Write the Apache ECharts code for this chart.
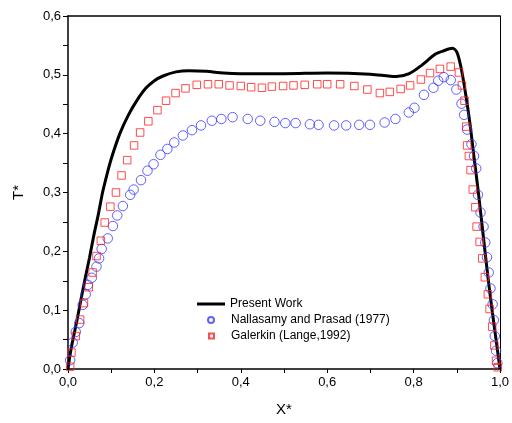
<!DOCTYPE html>
<html><head><meta charset="utf-8">
<script src="https://cdn.jsdelivr.net/npm/echarts@6/dist/echarts.min.js"></script>
<style>html,body{margin:0;padding:0;background:#fff}#c{width:512px;height:423px}</style>
</head><body><div id="c"></div>
<script>
const seriesNames = ['Present Work', 'Nallasamy and Prasad (1977)', 'Galerkin (Lange,1992)'];
const xTickLabels = ['0,0','0,2','0,4','0,6','0,8','1,0'];
const yTickLabels = ['0,0','0,1','0,2','0,3','0,4','0,5','0,6'];
const presentX = [0,0.005,0.01,0.02,0.03,0.04,0.05,0.06,0.07,0.08,0.09,0.1,0.12,0.14,0.16,0.18,0.2,0.22,0.25,0.28,0.32,0.36,0.4,0.5,0.6,0.7,0.76,0.79,0.82,0.85,0.87,0.89,0.9,0.91,0.92,0.93,0.94,0.95,0.96,0.97,0.98,0.99,1.0];
const presentT = [0,0.025,0.045,0.08,0.118,0.155,0.19,0.228,0.262,0.3,0.33,0.357,0.40,0.432,0.457,0.477,0.49,0.498,0.505,0.507,0.506,0.503,0.502,0.502,0.503,0.501,0.497,0.502,0.517,0.535,0.541,0.545,0.539,0.512,0.47,0.42,0.36,0.30,0.235,0.17,0.11,0.055,0];
const nallX = [0.005,0.011,0.018,0.026,0.034,0.041,0.046,0.055,0.066,0.072,0.078,0.092,0.104,0.114,0.127,0.144,0.152,0.169,0.184,0.198,0.214,0.230,0.246,0.266,0.287,0.308,0.333,0.355,0.381,0.416,0.445,0.478,0.503,0.527,0.560,0.580,0.616,0.644,0.674,0.699,0.733,0.758,0.789,0.802,0.824,0.846,0.857,0.870,0.886,0.899,0.911,0.917,0.924,0.934,0.940,0.945,0.949,0.955,0.962,0.966,0.970,0.974,0.978,0.983,0.986,0.988,0.991,0.994];
const nallT = [0.015,0.045,0.063,0.078,0.109,0.127,0.143,0.155,0.174,0.188,0.204,0.222,0.243,0.261,0.277,0.296,0.305,0.321,0.337,0.348,0.364,0.374,0.385,0.397,0.406,0.414,0.422,0.425,0.428,0.425,0.422,0.420,0.418,0.418,0.416,0.415,0.414,0.414,0.415,0.415,0.419,0.425,0.436,0.444,0.466,0.478,0.490,0.496,0.491,0.475,0.451,0.432,0.407,0.382,0.362,0.341,0.296,0.266,0.242,0.215,0.190,0.164,0.137,0.110,0.083,0.056,0.031,0.010];
const galX = [0.005,0.008,0.018,0.028,0.037,0.048,0.057,0.066,0.076,0.085,0.098,0.111,0.124,0.137,0.153,0.167,0.186,0.207,0.227,0.249,0.272,0.298,0.324,0.349,0.374,0.400,0.424,0.449,0.472,0.498,0.522,0.548,0.577,0.600,0.630,0.663,0.693,0.722,0.745,0.770,0.792,0.817,0.838,0.861,0.886,0.905,0.912,0.918,0.922,0.924,0.928,0.932,0.937,0.943,0.946,0.953,0.959,0.965,0.972,0.976,0.982,0.987,0.991,0.995];
const galT = [0.004,0.028,0.056,0.084,0.112,0.139,0.164,0.192,0.218,0.249,0.276,0.300,0.329,0.355,0.380,0.402,0.421,0.440,0.456,0.469,0.477,0.483,0.484,0.484,0.482,0.481,0.479,0.478,0.480,0.481,0.482,0.483,0.484,0.484,0.484,0.481,0.475,0.469,0.471,0.476,0.482,0.492,0.503,0.510,0.514,0.504,0.482,0.456,0.412,0.380,0.362,0.338,0.305,0.275,0.242,0.216,0.188,0.156,0.127,0.102,0.072,0.040,0.014,0.003];

const zip = (a, b) => a.map((v, i) => [v, b[i]]);
const FONT = 'Liberation Sans, Arial, sans-serif';
const chart = echarts.init(document.getElementById('c'));
const lt = (pad) => ({fontFamily:FONT, fontSize:12, color:'#000', padding:[0,0,0,pad]});
const baseLegend = {orient:'vertical', itemGap: 0, selectedMode:false, padding:0};
chart.setOption({
  animation: false,
  backgroundColor: '#fff',
  grid: {left: 68, right: 11, top: 16, bottom: 54, show: false},
  legend: [
    Object.assign({}, baseLegend, {left: 197, top: 298, itemWidth: 28, itemHeight: 3, textStyle: lt(0), data:[{name: seriesNames[0], icon: 'rect', itemStyle:{color:'#000'}}]}),
    Object.assign({}, baseLegend, {left: 207, top: 314, itemWidth: 6, itemHeight: 6, textStyle: lt(12), data:[seriesNames[1]]}),
    Object.assign({}, baseLegend, {left: 208, top: 330, itemWidth: 5, itemHeight: 5, textStyle: lt(12), data:[seriesNames[2]]})
  ],
  xAxis: [{
    type: 'value', min: 0, max: 1, interval: 0.2,
    name: 'X*', nameLocation: 'middle', nameGap: 33,
    nameTextStyle: {fontFamily: FONT, fontSize: 15, color: '#000'},
    axisLine: {onZero:false, lineStyle: {color: '#000', width: 1.5}},
    axisTick: {inside: false, length: 4, lineStyle:{color:'#000'}},
    minorTick: {show: true, splitNumber: 2, length: 4, lineStyle:{color:'#000'}},
    splitLine: {show: false},
    axisLabel: {fontFamily: FONT, fontSize: 13, color: '#000', margin: 7, formatter: (v) => xTickLabels[Math.round(v/0.2)]}
  }, {
    type: 'value', position: 'top', min: 0, max: 1,
    axisLine: {show: true, onZero: false, lineStyle: {color: '#000', width: 1.5}},
    axisTick: {show: false}, axisLabel: {show: false}, splitLine: {show: false}
  }],
  yAxis: [{
    type: 'value', min: 0, max: 0.6, interval: 0.1,
    name: 'T*', nameLocation: 'middle', nameGap: 42,
    nameTextStyle: {fontFamily: FONT, fontSize: 15, color: '#000'},
    axisLine: {onZero:false, lineStyle: {color: '#000', width: 1.5}},
    axisTick: {inside: false, length: 5, lineStyle:{color:'#000'}},
    minorTick: {show: true, splitNumber: 2, length: 5, lineStyle:{color:'#000'}},
    splitLine: {show: false},
    axisLabel: {fontFamily: FONT, fontSize: 13, color: '#000', margin: 7, formatter: (v) => yTickLabels[Math.round(v*10)]}
  }, {
    type: 'value', position: 'right', min: 0, max: 0.6,
    axisLine: {show: true, onZero: false, lineStyle: {color: '#000', width: 1}},
    axisTick: {show: false}, axisLabel: {show: false}, splitLine: {show: false}
  }],
  series: [
    {name: seriesNames[0], type: 'line', data: zip(presentX, presentT), smooth: 0.3, symbol: 'none',
     lineStyle: {color: '#000', width: 3}, itemStyle:{color:'#000'}, z: 3},
    {name: seriesNames[1], type: 'scatter', data: zip(nallX, nallT), symbol: 'circle', symbolSize: 9.5,
     itemStyle: {color: 'rgba(255,255,255,0)', borderColor: '#3a3aff', borderWidth: 1}, z: 4},
    {name: seriesNames[2], type: 'scatter', data: zip(galX, galT), symbol: 'rect', symbolSize: 7.5,
     itemStyle: {color: 'rgba(255,255,255,0)', borderColor: '#ff2020', borderWidth: 1}, z: 5}
  ]
});
</script></body></html>
